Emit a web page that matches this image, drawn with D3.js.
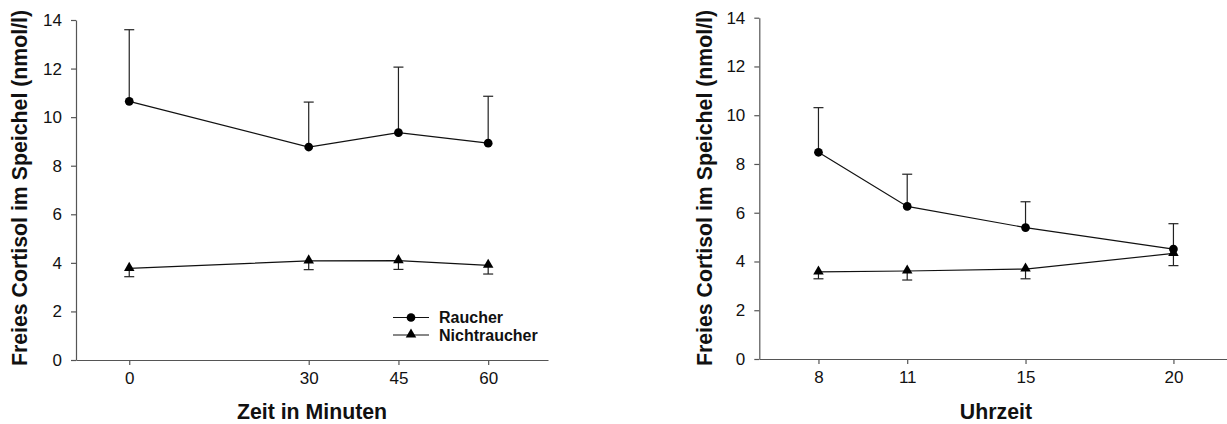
<!DOCTYPE html>
<html>
<head>
<meta charset="utf-8">
<script src="https://cdn.jsdelivr.net/npm/d3@7"></script>
<style>
  html, body { margin: 0; padding: 0; background: #fff; }
  svg { display: block; font-family: "Liberation Sans", Arial, sans-serif; }
</style>
</head>
<body>
<svg id="chart" width="1227" height="424"></svg>
<script>
// Salivary free cortisol, smokers vs. non-smokers
const minutes = [0, 30, 45, 60];
const raucherMin = [10.65, 8.77, 9.36, 8.93];
const raucherMinErr = [2.95, 1.85, 2.70, 1.93];
const nichtMin = [3.77, 4.08, 4.09, 3.90];
const nichtMinErr = [0.34, 0.36, 0.36, 0.36];

const hours = [8, 11, 15, 20];
const raucherHour = [8.48, 6.26, 5.39, 4.51];
const raucherHourErr = [1.83, 1.32, 1.06, 1.04];
const nichtHour = [3.57, 3.61, 3.69, 4.33];
const nichtHourErr = [0.28, 0.37, 0.40, 0.50];

const yTicks = [0, 2, 4, 6, 8, 10, 12, 14];
const yTitle = "Freies Cortisol im Speichel (nmol/l)";
const legendLabels = ["Raucher", "Nichtraucher"];

const svg = d3.select("#chart");
const axisColor = "#555";

function panel(cfg) {
  const g = svg.append("g");
  const x = d3.scaleLinear().domain(cfg.xDomain).range([cfg.left, cfg.right]);
  const y = d3.scaleLinear().domain([0, 14]).range([cfg.bottom, cfg.top]);

  // axes
  const yAxis = g.append("g")
    .attr("transform", `translate(${cfg.left},0)`)
    .call(d3.axisLeft(y).tickValues(yTicks).tickSize(5).tickSizeOuter(0).tickPadding(cfg.yPad));
  const xAxis = g.append("g")
    .attr("transform", `translate(0,${cfg.bottom})`)
    .call(d3.axisBottom(x).tickValues(cfg.xTicks).tickSize(5).tickSizeOuter(0).tickPadding(7));
  [yAxis, xAxis].forEach(a => {
    a.selectAll("path, line").attr("stroke", axisColor).attr("stroke-width", 1.2);
    a.selectAll("text").attr("fill", "#111").style("font-size", "17px")
      .style("font-family", '"Liberation Sans", Arial, sans-serif');
  });

  // axis titles
  g.append("text")
    .attr("transform", `translate(${cfg.yTitleX},188) rotate(-90)`)
    .attr("text-anchor", "middle")
    .style("font-size", "21.3px").style("font-weight", "bold").attr("fill", "#111")
    .text(yTitle);
  g.append("text")
    .attr("x", (x.range()[0] + x.range()[1]) / 2).attr("y", 419)
    .attr("text-anchor", "middle")
    .style("font-size", "21.3px").style("font-weight", "bold").attr("fill", "#111")
    .text(cfg.xTitle);

  const series = [
    { vals: cfg.raucher, err: cfg.raucherErr, dir: 1, marker: d3.symbolCircle },
    { vals: cfg.nicht, err: cfg.nichtErr, dir: -1, marker: d3.symbolTriangle }
  ];

  // error bars: smokers upward, non-smokers downward
  series.forEach(s => {
    const eg = g.append("g").attr("stroke", "#222").attr("stroke-width", 1.2);
    cfg.xVals.forEach((xv, i) => {
      const end = s.vals[i] + s.dir * s.err[i];
      eg.append("line").attr("x1", x(xv)).attr("x2", x(xv))
        .attr("y1", y(s.vals[i])).attr("y2", y(end));
      eg.append("line").attr("x1", x(xv) - 5).attr("x2", x(xv) + 5)
        .attr("y1", y(end)).attr("y2", y(end));
    });
  });

  const line = d3.line().x((d, i) => x(cfg.xVals[i])).y(d => y(d));
  series.forEach(s => {
    g.append("path").datum(s.vals).attr("d", line)
      .attr("fill", "none").attr("stroke", "#111").attr("stroke-width", 1.2);
  });
  series.forEach(s => {
    const size = s.marker === d3.symbolCircle ? 60 : 48;
    g.selectAll(null).data(s.vals).enter().append("path")
      .attr("d", d3.symbol().type(s.marker).size(size))
      .attr("transform", (d, i) => `translate(${x(cfg.xVals[i])},${y(d) + (s.marker === d3.symbolTriangle ? -0.5 : 0)})`)
      .attr("fill", "#000");
  });
  return g;
}

panel({
  left: 76, right: 548, top: 20, bottom: 360,
  xDomain: [-8.9, 70], xTicks: minutes, xVals: minutes,
  raucher: raucherMin, raucherErr: raucherMinErr,
  nicht: nichtMin, nichtErr: nichtMinErr,
  xTitle: "Zeit in Minuten", yTitleX: 27, yPad: 9
});

panel({
  left: 759.3, right: 1232.6, top: 17.7, bottom: 359,
  xDomain: [6, 22], xTicks: hours, xVals: hours,
  raucher: raucherHour, raucherErr: raucherHourErr,
  nicht: nichtHour, nichtErr: nichtHourErr,
  xTitle: "Uhrzeit", yTitleX: 712, yPad: 9
});

// legend
const lg = svg.append("g");
const legendSyms = [d3.symbolCircle, d3.symbolTriangle];
legendLabels.forEach((lab, i) => {
  const cy = 317.5 + i * 17.5;
  lg.append("line").attr("x1", 393).attr("x2", 429).attr("y1", cy).attr("y2", cy)
    .attr("stroke", "#111").attr("stroke-width", 1.2);
  lg.append("path")
    .attr("d", d3.symbol().type(legendSyms[i]).size(i === 0 ? 60 : 48))
    .attr("transform", `translate(411,${cy - (i === 1 ? 0.5 : 0)})`).attr("fill", "#000");
  lg.append("text").attr("x", 439).attr("y", cy + 5.5)
    .style("font-size", "16px").style("font-weight", "bold").attr("fill", "#111")
    .text(lab);
});
</script>
</body>
</html>
